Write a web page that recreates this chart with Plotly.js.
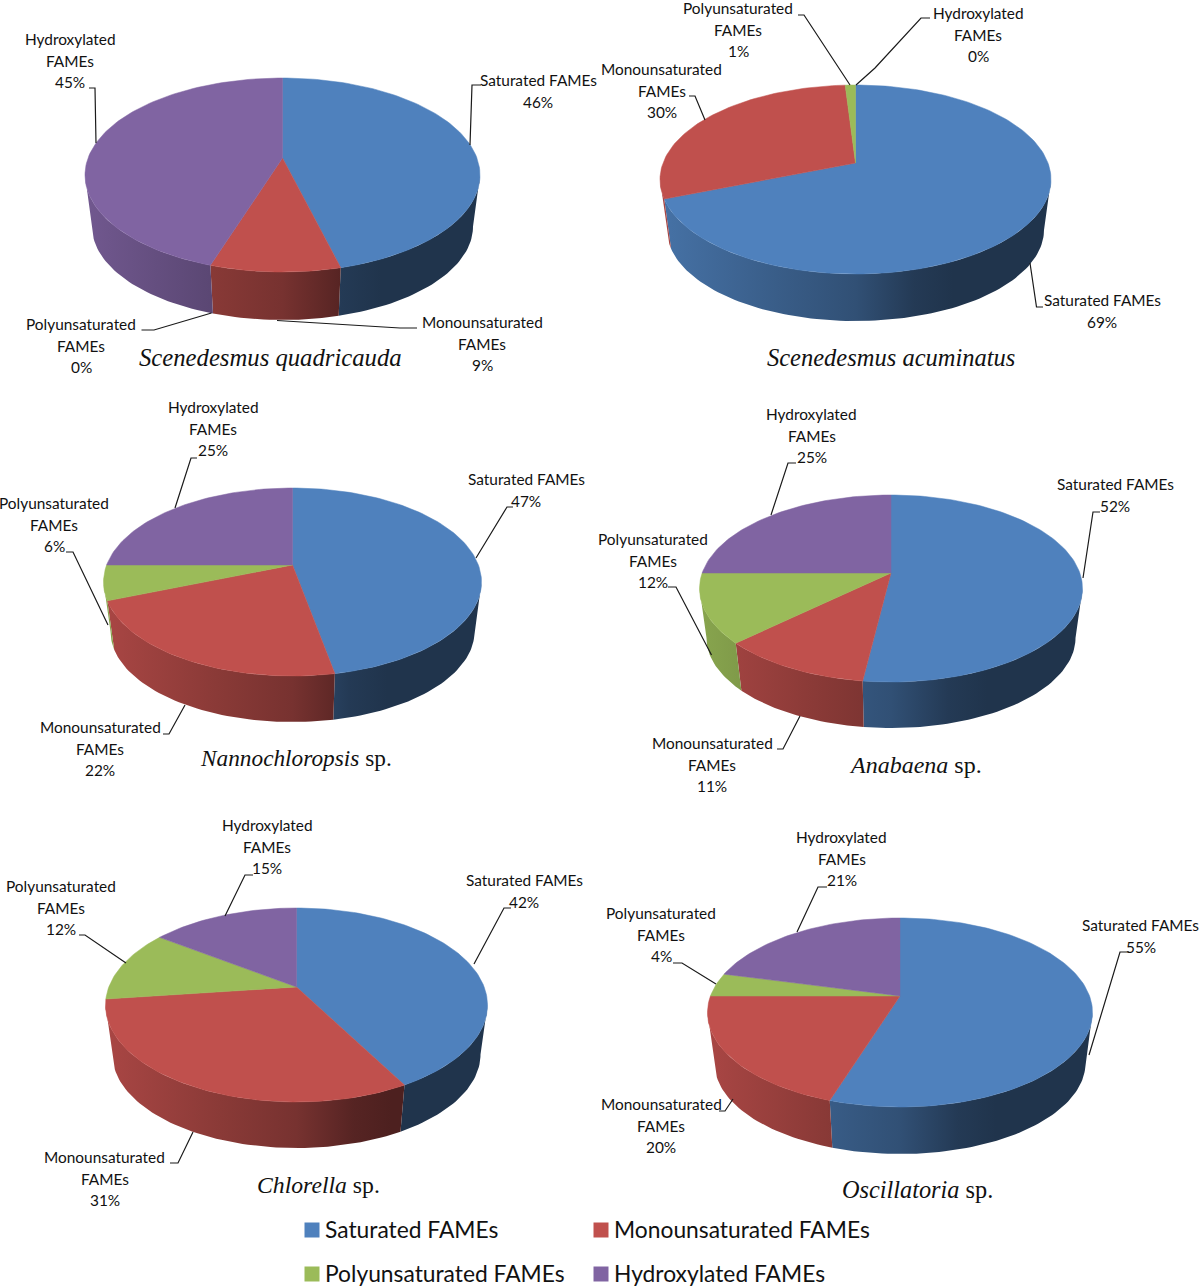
<!DOCTYPE html>
<html>
<head>
<meta charset="utf-8">
<script src="https://cdn.plot.ly/plotly-3.0.1.min.js"></script>
<style>html,body{margin:0;padding:0;background:#fff}#chart{width:1200px;height:1287px}</style>
</head>
<body>
<div id="chart"></div>
<script>
// ---------- values ----------
var categories = ['Saturated FAMEs', 'Monounsaturated FAMEs', 'Polyunsaturated FAMEs', 'Hydroxylated FAMEs'];
var species = ['<i>Scenedesmus quadricauda</i>', '<i>Scenedesmus acuminatus</i>', '<i>Nannochloropsis</i> sp.', '<i>Anabaena</i> sp.', '<i>Chlorella</i> sp.', '<i>Oscillatoria</i> sp.'];
var saturated       = [46, 69, 47, 52, 42, 55];
var monounsaturated = [ 9, 30, 22, 11, 31, 20];
var polyunsaturated = [ 0,  1,  6, 12, 12,  4];
var hydroxylated    = [45,  0, 25, 25, 15, 21];
var seriesValues = [saturated, monounsaturated, polyunsaturated, hydroxylated];

// ---------- styles ----------
var faceColors = [[79,129,189],[192,80,77],[155,187,89],[128,100,162]];
var labelFont = {family:'Lato, sans-serif', size:15.4, color:'#111'};
var titleSizes = [24.7,24.5,23.3,24,23.7,24.3];
var legendFont = {family:'Lato, sans-serif', size:22.8, color:'#111'};
var wallStops = [[0,.88],[.3,.72],[.5,.62],[.65,.45],[.75,.40],[1,.40]];

// ---------- layout of each tilted pie (page pixels) ----------
var pieBoxes = [
  {cx:282.5, rx:197.5, top:78,  apex:158, front:272,  base:320},
  {cx:855.5, rx:195.5, top:85,  apex:163, front:274,  base:321},
  {cx:292.5, rx:189,   top:488, apex:565, front:676,  base:722},
  {cx:891,   rx:191.5, top:495, apex:573, front:682,  base:728},
  {cx:296.5, rx:191,   top:908, apex:987, front:1102, base:1148},
  {cx:900,   rx:192.5, top:918, apex:996, front:1107, base:1154}
];
var titlePos = [[270,357],[891,357],[296,758],[915,765],[318,1185],[917,1189]];

// label centre x, first-line y for categories [sat, mono, poly, hydro] of each pie
var labelPos = [
  [[538,80],[482,322],[81,324],[70,39]],
  [[1102,300],[661.5,69],[738,8],[978,13]],
  [[526,479],[100,727],[54,503],[213,407]],
  [[1115,484],[712,743],[653,539],[811.5,414]],
  [[524,880],[104.5,1157],[61,886],[267,825]],
  [[1140.5,925],[661,1104],[661,913],[841.5,837]]
];
var leaders = [
  [[[481,85],[472,85],[470,145]], [[417,328],[400,328],[277,320.5]], [[141.5,330],[154,330],[211.5,313]], [[89,88],[95,88],[96,143]]],
  [[[1043,307],[1036.5,307],[1030,263]], [[689,96],[695,96],[705,120]], [[798,15],[804,15],[850,85]], [[930,18],[921,18],[875,68],[856,85]]],
  [[[513,507],[507,507],[476,558]], [[163,734],[169,734],[185,705]], [[66,552],[73,552],[108,625]], [[197,458],[191,458],[175,508]]],
  [[[1100,512],[1093,512],[1083,578]], [[777,749],[783,749],[800,716]], [[668,587],[676,587],[711.5,655]], [[796,463],[788,463],[771,515]]],
  [[[511,908],[504,908],[474,964]], [[170,1163],[178,1163],[193,1132]], [[79,935],[85,935],[126,963]], [[253,875],[245,875],[225,916]]],
  [[[1129,952],[1120,952],[1089,1055]], [[719,1111],[725,1111],[733,1099]], [[673,963],[682,963],[716,984]], [[827,887],[818,887],[797,932]]]
];
var legendPos = [[312,1230],[601,1230],[312,1274],[601,1274]];
var legendTextGap = 11;
var legendTextRise = 1;
var labelStep = 21.5;

// ---------- projection of a pie onto a tilted disc ----------
function makeProjector(b){
  var T = b.apex - b.top, B = b.front - b.apex;
  var k = (B - T) / (B + T);
  var a = b.rx * Math.sqrt(1 - k*k), h = B * (1 - k);
  var s = (b.rx - 7) / b.rx;
  var drop = b.base - (b.apex + s * B);
  function raw(deg){
    var r = deg * Math.PI / 180, x = Math.sin(r), y = -Math.cos(r), d = 1 - k*y;
    return [a*x/d, h*y/d];
  }
  var edge = Math.acos(-k) * 180 / Math.PI;
  return {
    top: function(deg){ var p = raw(deg); return [b.cx + p[0], b.apex + p[1]]; },
    bottom: function(deg){ var p = raw(deg); return [b.cx + s*p[0], b.apex + drop + s*p[1]]; },
    wallFrom: edge, wallTo: 360 - edge
  };
}
function sweep(a, b){
  var out = [], n = Math.max(1, Math.ceil((b - a) / 1.5));
  for (var i = 0; i <= n; i++) out.push(a + (b - a) * i / n);
  return out;
}
function shade(c, f){ return 'rgb(' + c.map(function(v){ return Math.round(v*f); }).join(',') + ')'; }
function css(c){ return 'rgb(' + c.join(',') + ')'; }

var wallTraces = [], faceTraces = [], shapes = [], annotations = [];

pieBoxes.forEach(function(box, p){
  var proj = makeProjector(box);
  var total = 0;
  seriesValues.forEach(function(v){ total += v[p]; });
  var start = 0;
  seriesValues.forEach(function(v, c){
    var val = v[p];
    var end = start + val / total * 360;
    if (val > 0) {
      // top face
      var fx = [box.cx], fy = [box.apex];
      sweep(start, end).forEach(function(d){ var q = proj.top(d); fx.push(q[0]); fy.push(q[1]); });
      fx.push(box.cx); fy.push(box.apex);
      faceTraces.push({type:'scatter', mode:'lines', x:fx, y:fy, fill:'toself', fillcolor:css(faceColors[c]),
        line:{color:css(faceColors[c]), width:0.5}, name:categories[c], text:val+'%', hoverinfo:'name+text', showlegend:false});
      // side wall
      var w0 = Math.max(start, proj.wallFrom), w1 = Math.min(end, proj.wallTo);
      if (w1 > w0) {
        var angs = sweep(w0, w1), wx = [], wy = [];
        angs.forEach(function(d){ var q = proj.top(d); wx.push(q[0]); wy.push(q[1]); });
        angs.slice().reverse().forEach(function(d){ var q = proj.bottom(d); wx.push(q[0]); wy.push(q[1]); });
        wx.push(wx[0]); wy.push(wy[0]);
        wallTraces.push({type:'scatter', mode:'lines', x:wx, y:wy, fill:'toself',
          fillgradient:{type:'horizontal', start:box.cx-box.rx, stop:box.cx+box.rx,
            colorscale:wallStops.map(function(s){ return [s[0], shade(faceColors[c], s[1])]; })},
          line:{width:0}, hoverinfo:'skip', showlegend:false});
      }
    }
    // label (every category is labelled, even at 0%)
    var lp = labelPos[p][c];
    var nameLines = c === 0 ? [categories[0]] : [categories[c].replace(' FAMEs',''), 'FAMEs'];
    nameLines.concat([val+'%']).forEach(function(line, i){
      annotations.push({xref:'x', yref:'y', x:lp[0], y:lp[1]+i*labelStep, text:line, showarrow:false,
        xanchor:'center', yanchor:'middle', font:labelFont});
    });
    // leader line
    var path = leaders[p][c].map(function(q, i){ return (i ? 'L' : 'M') + q[0] + ' ' + q[1]; }).join(' ');
    shapes.push({type:'path', xref:'x', yref:'y', path:path, line:{color:'#1a1a1a', width:1.2}, layer:'above'});
    start = end;
  });
  annotations.push({xref:'x', yref:'y', x:titlePos[p][0], y:titlePos[p][1], text:species[p], showarrow:false,
    xanchor:'center', yanchor:'middle', font:{family:'"Liberation Serif", serif', size:titleSizes[p], color:'#111'}});
});

var legendTraces = categories.map(function(name, c){
  annotations.push({xref:'x', yref:'y', x:legendPos[c][0]+legendTextGap, y:legendPos[c][1]-legendTextRise, text:name, showarrow:false,
    xanchor:'left', yanchor:'middle', font:legendFont});
  return {type:'scatter', mode:'markers', x:[legendPos[c][0]], y:[legendPos[c][1]],
    marker:{symbol:'square', size:15, color:css(faceColors[c])}, name:name, hoverinfo:'name', showlegend:false, cliponaxis:false};
});

var layout = {
  width:1200, height:1287, margin:{l:0,r:0,t:0,b:0},
  paper_bgcolor:'#fff', plot_bgcolor:'#fff', showlegend:false,
  xaxis:{range:[0,1200], visible:false, fixedrange:true},
  yaxis:{range:[1287,0], visible:false, fixedrange:true},
  shapes:shapes, annotations:annotations
};
Plotly.newPlot('chart', wallTraces.concat(faceTraces, legendTraces), layout, {displayModeBar:false, responsive:false});
</script>
</body>
</html>
